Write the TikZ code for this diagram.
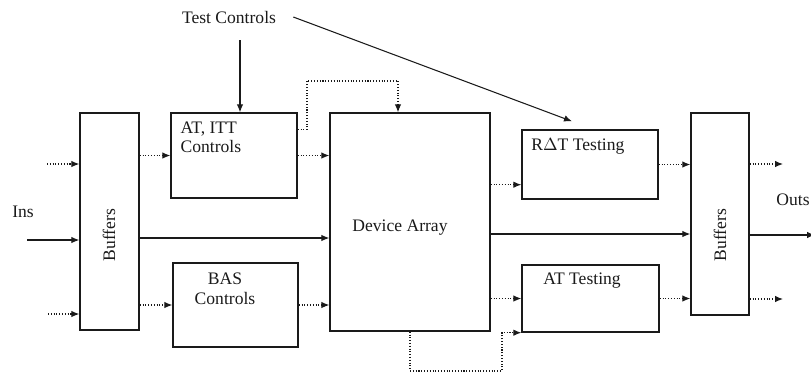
\documentclass[tikz,border=0pt]{standalone}
\usepackage{fontspec}
\setmainfont{Liberation Serif}
\usepackage{tikz}
\usetikzlibrary{arrows.meta,positioning,calc}
\definecolor{ink}{HTML}{1A1A1A}

\begin{document}
\begin{tikzpicture}[
  x=0.02cm,y=-0.02cm,
  font=\fontsize{10}{11}\selectfont,
  block/.style={draw=ink,thick,minimum width=#1,inner sep=0pt},
  lbl/.style={inner sep=0pt,text=ink,align=left},
  solidarrow/.style={-{Latex[length=1.6mm,width=1.3mm]},semithick,draw=ink},
  dotarrow/.style={-{Latex[length=1.6mm,width=1.3mm]},densely dotted,semithick,draw=ink}
]
  \useasboundingbox (0,0) rectangle (811,373);
  \clip (0,0) rectangle (811,373);

  % blocks, placed by their centres (pixel grid of the page)
  \node[block=1.18cm,minimum height=4.34cm] (bufL) at (109.5,221.5) {};
  \node[block=2.52cm,minimum height=1.70cm] (atitt) at (234,155.5) {};
  \node[block=2.50cm,minimum height=1.68cm] (bas) at (235.5,305) {};
  \node[block=3.20cm,minimum height=4.36cm] (dev) at (410,222) {};
  \node[block=2.72cm,minimum height=1.38cm] (rat) at (590,164.5) {};
  \node[block=2.74cm,minimum height=1.34cm] (att) at (590.5,298.5) {};
  \node[block=1.16cm,minimum height=4.04cm] (bufR) at (720,214) {};

  % texts
  \node[lbl] (tc) at (229,17) {Test Controls};
  \node[lbl] (ins) at (23,212) {Ins};
  \node[lbl,anchor=east] (outs) at (810,200) {Outs};
  \node[lbl,rotate=90] (bufLtext) at (109,235) {Buffers};
  \node[lbl,rotate=90] (bufRtext) at (720,235) {Buffers};
  \node[lbl,anchor=north west] (atittext) at ([shift={(0.2cm,-0.18cm)}]atitt.north west) {AT, ITT\\Controls};
  \node[lbl,align=center,anchor=north] (bastext) at (225,273) {BAS\\Controls};
  \node[lbl] (devtext) at (400,228) {Device Array};
  \node[lbl,anchor=north west] (rattext) at (531,138) {R$\Delta$T Testing};
  \node[lbl,anchor=north west] (atttext) at (543,273) {AT Testing};

  % free ends
  \coordinate (in1) at (47,164);
  \coordinate (in2) at (27,240);
  \coordinate (in3) at (48,314);
  \coordinate (out1) at (783,164);
  \coordinate (out2) at (815,235);
  \coordinate (out3) at (783,299);
  \coordinate (tcdown) at (240,40);
  \coordinate (fbtop) at (307,81);
  \coordinate (fbbot) at (502,371);

  % inputs
  \draw[dotarrow] (in1) -- (in1 -| bufL.west);
  \draw[solidarrow] (in2) -- (in2 -| bufL.west);
  \draw[dotarrow] (in3) -- (in3 -| bufL.west);

  % test controls
  \draw[solidarrow] (tcdown) -- (tcdown |- atitt.north);
  \draw[solidarrow] ([xshift=0.34cm]tc.east) -- ([shift={(-0.36cm,0.16cm)}]rat.north);

  % left half
  \draw[dotarrow] (atitt.west -| bufL.east) -- (atitt.west);
  \draw[solidarrow] ([yshift=-0.33cm]bufL.east) -- ([yshift=-0.33cm]bufL.east -| dev.west);
  \draw[dotarrow] (bas.west -| bufL.east) -- (bas.west);
  \draw[dotarrow] (atitt.east) -- (atitt.east -| dev.west);
  \draw[dotarrow] (bas.east) -- (bas.east -| dev.west);
  \draw[dotarrow] ([yshift=-0.34cm]atitt.north east) -| (fbtop) -| ([xshift=-0.24cm]dev.north);

  % right half
  \draw[dotarrow] ([yshift=0.3cm]rat.south west -| dev.east) -- ([yshift=0.3cm]rat.south west);
  \draw[solidarrow] ([yshift=-0.24cm]dev.east) -- ([yshift=-0.24cm]dev.east -| bufR.west);
  \draw[dotarrow] (att.west -| dev.east) -- (att.west);
  \draw[dotarrow] (dev.south) |- (fbbot) |- (att.south west);
  \draw[dotarrow] (rat.east) -- (rat.east -| bufR.west);
  \draw[dotarrow] (att.east) -- (att.east -| bufR.west);

  % outputs
  \draw[dotarrow] (out1 -| bufR.east) -- (out1);
  \draw[solidarrow] (out2 -| bufR.east) -- (out2);
  \draw[dotarrow] (out3 -| bufR.east) -- (out3);
\end{tikzpicture}
\end{document}
